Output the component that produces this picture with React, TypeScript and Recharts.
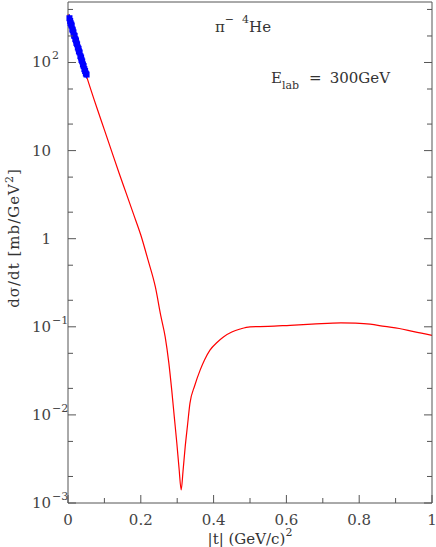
import { ComposedChart, Line, XAxis, YAxis } from 'recharts';

// |t| (GeV/c)^2 and d(sigma)/dt (mb/GeV^2), theory curve
const curveT = [0, 0.02, 0.05, 0.08, 0.1, 0.12, 0.14, 0.16, 0.18, 0.2, 0.22, 0.24, 0.255, 0.267, 0.277, 0.285, 0.292, 0.299, 0.305, 0.311, 0.316, 0.322, 0.328, 0.335, 0.348, 0.363, 0.375, 0.39, 0.41, 0.427, 0.45, 0.473, 0.5, 0.55, 0.61, 0.67, 0.75, 0.79, 0.83, 0.87, 0.91, 0.95, 1.0];
const curveV = [353, 187, 72, 30, 17.2, 9.8, 5.6, 3.27, 1.9, 1.1, 0.57, 0.283, 0.133, 0.077, 0.039, 0.0191, 0.0095, 0.00476, 0.0025, 0.00141, 0.0023, 0.00436, 0.0074, 0.0135, 0.0214, 0.0322, 0.042, 0.0543, 0.0668, 0.0767, 0.0871, 0.0944, 0.1, 0.101, 0.104, 0.107, 0.111, 0.11, 0.107, 0.101, 0.0957, 0.088, 0.08];

// measured points
const dataT = [0.004, 0.006, 0.007, 0.009, 0.01, 0.012, 0.013, 0.015, 0.017, 0.018, 0.02, 0.022, 0.023, 0.025, 0.027, 0.029, 0.03, 0.032, 0.034, 0.036, 0.037, 0.039, 0.041, 0.043, 0.045, 0.047, 0.049, 0.051];
const dataV = [318, 296, 280, 270, 262, 238, 232, 220, 203, 200, 184, 178, 167, 161, 148, 143, 134, 130, 118, 114, 107, 103, 95, 91, 84, 80, 75, 73];

const xTicks = [0, 0.05, 0.1, 0.15, 0.2, 0.25, 0.3, 0.35, 0.4, 0.45, 0.5, 0.55, 0.6, 0.65, 0.7, 0.75, 0.8, 0.85, 0.9, 0.95, 1];
const xLabels = ['0', '0.2', '0.4', '0.6', '0.8', '1'];
const decades = [-3, -2, -1, 0, 1, 2];

const yTicks: number[] = [];
decades.forEach(d => {
  for (let m = 1; m <= 9; m++) {
    const v = m * Math.pow(10, d);
    if (v < 490) yTicks.push(+v.toPrecision(3));
  }
});

const curve = curveT.map((t, i) => ({ t, v: curveV[i] }));
const points = dataT.map((t, i) => ({ t, v: dataV[i] }));

if (typeof document !== 'undefined') {
  document.body.style.margin = '0';
}

const FONT = 'DejaVu Serif';
const AXIS = '#555';

const isMajorX = (v: number) => Math.abs(v * 5 - Math.round(v * 5)) < 1e-6;
const isMajorY = (v: number) => Math.abs(Math.log10(v) - Math.round(Math.log10(v))) < 1e-6;

const BottomTick = (props: any) => {
  const { x, y, payload } = props;
  const major = isMajorX(payload.value);
  const idx = Math.round(payload.value * 5);
  return (
    <g>
      <line x1={x} y1={y} x2={x} y2={y - (major ? 8 : 5)} stroke={AXIS} />
      {major && (
        <text x={x} y={y + 22} textAnchor="middle" fontFamily={FONT} fontSize={15} fill="#444">
          {xLabels[idx]}
        </text>
      )}
    </g>
  );
};

const TopTick = (props: any) => {
  const { x, y, payload } = props;
  const major = isMajorX(payload.value);
  return <line x1={x} y1={y} x2={x} y2={y + (major ? 8 : 5)} stroke={AXIS} />;
};

const LeftTick = (props: any) => {
  const { x, y, payload } = props;
  const v = payload.value;
  const major = isMajorY(v);
  const e = Math.round(Math.log10(v));
  return (
    <g>
      <line x1={x} y1={y} x2={x + (major ? 8 : 5)} y2={y} stroke={AXIS} />
      {major && (
        <text x={51} y={y + 5} textAnchor="end" fontFamily={FONT} fontSize={15} fill="#444">
          {e === 0 ? '1' : '10'}
        </text>
      )}
      {major && e !== 0 && e !== 1 && (
        <text x={52} y={y - 3} textAnchor="start" fontFamily={FONT} fontSize={11} fill="#444">
          {e < 0 ? '\u2212' + Math.abs(e) : String(e)}
        </text>
      )}
    </g>
  );
};

const RightTick = (props: any) => {
  const { x, y, payload } = props;
  const major = isMajorY(payload.value);
  return <line x1={x} y1={y} x2={x - (major ? 8 : 5)} y2={y} stroke={AXIS} />;
};

const DataMark = (props: any) => {
  const { cx, cy } = props;
  return (
    <g>
      <line x1={cx} y1={cy - 4} x2={cx} y2={cy + 4} stroke="#0000ff" />
      <rect x={cx - 3} y={cy - 3} width={6} height={6} fill="#0000ff" />
    </g>
  );
};

const Texts = () => (
  <svg width={436} height={547} style={{ position: 'absolute', left: 0, top: 0, pointerEvents: 'none' }}>
    <g fontFamily={FONT} fill="#333">
      <text transform="translate(19,238) rotate(-90)" textAnchor="middle" fontSize={15} letterSpacing={1}>
        dσ/dt [mb/GeV<tspan dy={-6} fontSize={11}>2</tspan><tspan dy={6}>]</tspan>
      </text>
      <text x={250} y={544} textAnchor="middle" fontSize={15}>
        |t| (GeV/c)<tspan dy={-8} fontSize={11}>2</tspan>
      </text>
      <text x={215} y={32} fontSize={15}>
        π<tspan dy={-9} fontSize={11}>−</tspan>
        <tspan dx={8} fontSize={11}>4</tspan>
        <tspan dy={9} fontSize={15}>He</tspan>
      </text>
      <text x={271} y={83} fontSize={15}>
        E<tspan dy={6} fontSize={11}>lab</tspan>
        <tspan dy={-6} dx={10}>=</tspan>
        <tspan dx={8}>300GeV</tspan>
      </text>
    </g>
  </svg>
);

export default function App() {
  return (
    <div style={{ position: 'relative', width: 436, height: 547, overflow: 'hidden' }}>
      <ComposedChart width={436} height={547} margin={{ top: 1, right: 3, bottom: 0, left: 0 }}>
        <XAxis
          xAxisId="b"
          dataKey="t"
          type="number"
          domain={[0, 1]}
          ticks={xTicks}
          height={44}
          tickSize={0}
          tickMargin={0}
          tickLine={false}
          axisLine={{ stroke: AXIS }}
          tick={<BottomTick />}
        />
        <XAxis
          xAxisId="top"
          dataKey="t"
          type="number"
          domain={[0, 1]}
          ticks={xTicks}
          orientation="top"
          height={1}
          tickSize={0}
          tickMargin={0}
          tickLine={false}
          axisLine={{ stroke: AXIS }}
          tick={<TopTick />}
        />
        <YAxis
          yAxisId="l"
          type="number"
          scale="log"
          domain={[0.001, 486]}
          ticks={yTicks}
          width={68}
          tickSize={0}
          tickMargin={0}
          tickLine={false}
          axisLine={{ stroke: AXIS }}
          tick={<LeftTick />}
          allowDataOverflow
        />
        <YAxis
          yAxisId="r"
          orientation="right"
          type="number"
          scale="log"
          domain={[0.001, 486]}
          ticks={yTicks}
          width={1}
          tickSize={0}
          tickMargin={0}
          tickLine={false}
          axisLine={{ stroke: AXIS }}
          tick={<RightTick />}
          allowDataOverflow
        />
        <Line
          xAxisId="b"
          yAxisId="l"
          data={points}
          dataKey="v"
          stroke="none"
          dot={<DataMark />}
          isAnimationActive={false}
        />
        <Line
          xAxisId="b"
          yAxisId="l"
          data={curve}
          dataKey="v"
          type="monotone"
          stroke="#ff0000"
          strokeWidth={1.2}
          dot={false}
          isAnimationActive={false}
        />
      </ComposedChart>
      <Texts />
    </div>
  );
}
